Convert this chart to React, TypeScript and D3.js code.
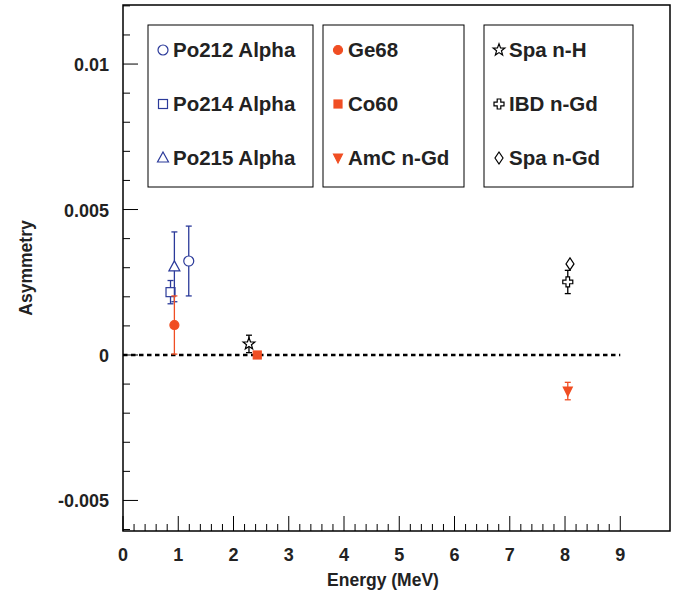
import React from "react";
import * as d3 from "d3";

const names = ["Po212 Alpha","Po214 Alpha","Po215 Alpha","Ge68","Co60","AmC n-Gd","Spa n-H","IBD n-Gd","Spa n-Gd"];
const energies = [1.19,0.86,0.93,0.93,2.43,8.05,2.28,8.05,8.09];
const asym = [0.00323,0.00216,0.00303,0.00103,0.0,-0.00124,0.00038,0.00251,0.00313];
const errs = [0.0012,0.0004,0.0012,0.001,0.00003,0.0003,0.0003,0.0004,0];
const shapes = ["circle","square","triangle","circle","square","tridown","star","cross","diamond"];
const filled = [false,false,false,true,true,true,false,false,false];
const colors = ["#2b3a9a","#2b3a9a","#2b3a9a","#f04e23","#f04e23","#f04e23","#000","#000","#000"];
const xTicks = [0,1,2,3,4,5,6,7,8,9];
const yTicks = [-0.005,0,0.005,0.01];
const yLabels = ["-0.005","0","0.005","0.01"];

const L=123,R=670,T=5,B=531;
const x = d3.scaleLinear().domain([0,9.9]).range([L,R]);
const y = d3.scaleLinear().domain([-0.00605,0.01203]).range([B,T]);

function Marker({s,cx,cy,fill,color}:{s:string;cx:number;cy:number;fill:boolean;color:string}){
  const f = fill?color:"white";
  const p:any={fill:f,stroke:color,strokeWidth:1.2};
  if(s==="circle") return <circle cx={cx} cy={cy} r={fill?4.5:5} {...p}/>;
  if(s==="square") return fill?<rect x={cx-4} y={cy-4} width={8} height={8} {...p}/>:<rect x={cx-4.5} y={cy-4.5} width={9} height={9} {...p}/>;
  if(s==="triangle") return <path d={`M${cx},${cy-6}L${cx+5.5},${cy+4}L${cx-5.5},${cy+4}Z`} {...p}/>;
  if(s==="tridown") return <path d={`M${cx-4.5},${cy-4}L${cx+4.5},${cy-4}L${cx},${cy+5}Z`} {...p}/>;
  if(s==="diamond") return <path d={`M${cx},${cy-6}L${cx+4},${cy}L${cx},${cy+6}L${cx-4},${cy}Z`} {...p}/>;
  if(s==="cross") return <path d={`M${cx-1.8},${cy-5}h3.6v3.2h3.2v3.6h-3.2v3.2h-3.6v-3.2h-3.2v-3.6h3.2Z`} {...p}/>;
  const pts:string[]=[];
  for(let i=0;i<10;i++){const r=i%2?2.6:6.2;const a=-Math.PI/2+i*Math.PI/5;pts.push(`${cx+r*Math.cos(a)},${cy+r*Math.sin(a)}`);}
  return <path d={`M${pts.join("L")}Z`} {...p}/>;
}

const boxes = [{x0:148,x1:313,items:[0,1,2]},{x0:323,x1:464,items:[3,4,5]},{x0:484,x1:633,items:[6,7,8]}];

export default function App(){
  const font = "Liberation Sans, Arial, sans-serif";
  const minorX = d3.range(0,9.01,0.2);
  const minorY = d3.range(-6,12.01,1).map(v=>v*0.001);
  return <svg width={683} height={604} style={{display:"block",position:"absolute",left:0,top:0}} fontFamily={font} fontWeight="bold">
    <rect x={L} y={T} width={R-L} height={B-T} fill="none" stroke="#000" strokeWidth={1.5}/>
    {minorX.map((v,i)=>{const maj=Math.abs(v-Math.round(v))<1e-6;return <line key={i} x1={x(v)} x2={x(v)} y1={B} y2={B-(maj?15:7)} stroke="#000"/>;})}
    {minorY.map((v,i)=>{const maj=Math.abs(v/0.005-Math.round(v/0.005))<1e-6;return <line key={i} x1={L} x2={L+(maj?15:7)} y1={y(v)} y2={y(v)} stroke="#000"/>;})}
    {xTicks.map(v=><text key={v} x={x(v)} y={B+30} textAnchor="middle" fontSize={18} fill="#222">{v}</text>)}
    {yTicks.map((v,i)=><text key={i} x={L-14} y={y(v)+7} textAnchor="end" fontSize={18} fill="#222">{yLabels[i]}</text>)}
    <text x={383} y={586} textAnchor="middle" fontSize={17.5} fill="#222">Energy (MeV)</text>
    <text transform={`translate(32,268) rotate(-90)`} textAnchor="middle" fontSize={17.5} fill="#222">Asymmetry</text>
    <line x1={x(0)} x2={x(9)} y1={y(0)} y2={y(0)} stroke="#000" strokeWidth={2.4} strokeDasharray="4.5,3.5"/>
    {energies.map((e,i)=><g key={i}>
      {errs[i]>0.0001 && <g stroke={colors[i]} strokeWidth={1.3}>
        <line x1={x(e)} x2={x(e)} y1={y(asym[i]-errs[i])} y2={y(asym[i]+errs[i])}/>
        <line x1={x(e)-3} x2={x(e)+3} y1={y(asym[i]-errs[i])} y2={y(asym[i]-errs[i])}/>
        <line x1={x(e)-3} x2={x(e)+3} y1={y(asym[i]+errs[i])} y2={y(asym[i]+errs[i])}/>
      </g>}
      <Marker s={shapes[i]} cx={x(e)} cy={y(asym[i])} fill={filled[i]} color={colors[i]}/>
    </g>)}
    {boxes.map((b,k)=><g key={k}>
      <rect x={b.x0} y={25} width={b.x1-b.x0} height={162} fill="white" stroke="#000" strokeWidth={1}/>
      {b.items.map((it,j)=><g key={it}>
        <Marker s={shapes[it]} cx={b.x0+15} cy={50+j*54} fill={filled[it]} color={colors[it]}/>
        <text x={b.x0+25} y={57+j*54} fontSize={20.5} fill="#222">{names[it]}</text>
      </g>)}
    </g>)}
  </svg>;
}
